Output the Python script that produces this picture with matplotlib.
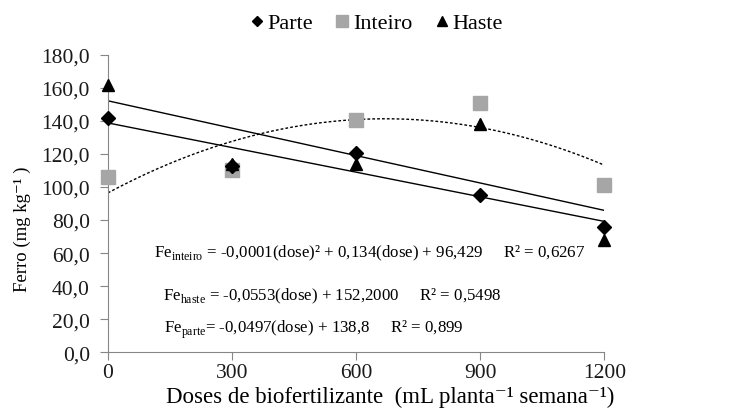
import matplotlib.pyplot as plt
import numpy as np

plt.rcParams['font.family'] = ['Liberation Serif', 'DejaVu Serif']
plt.rcParams['mathtext.fontset'] = 'custom'
plt.rcParams['mathtext.rm'] = 'Liberation Serif'

doses = [0, 300, 600, 900, 1200]
parte = [141.5, 113.0, 120.5, 95.0, 76.0]
inteiro = [106.0, 110.0, 140.5, 151.0, 101.0]
haste = [161.5, 114.0, 114.0, 138.0, 68.0]

# coeficientes das regressoes
coef_inteiro = [-0.0001, 0.134, 96.429]
coef_haste = [-0.0553, 152.2]
coef_parte = [-0.0497, 138.8]

fig = plt.figure(figsize=(7.29, 4.14), dpi=100)
ax = fig.add_axes([0.148, 0.147, 0.681, 0.718])

xx = np.linspace(0, 1200, 200)
ax.plot(xx, np.polyval(coef_inteiro, xx), color='black', lw=1, ls=(0, (2, 1.5)))
ax.plot(xx, np.polyval(coef_haste, xx), color='black', lw=1)
ax.plot(xx, np.polyval(coef_parte, xx), color='black', lw=1)

ax.plot(doses, inteiro, 's', color='#a6a6a6', ms=10, ls='none', label='Inteiro', zorder=3, clip_on=False)
ax.plot(doses, parte, 'D', color='black', ms=7, ls='none', label='Parte', zorder=4, clip_on=False)
ax.plot(doses, haste, '^', color='black', ms=9, ls='none', label='Haste', zorder=4, clip_on=False)

ax.set_xlim(0, 1200)
ax.set_ylim(0, 180)
ax.set_xticks(doses)
ax.set_yticks(np.arange(0, 181, 20))
ax.set_yticklabels([('%.1f' % v).replace('.', ',') for v in np.arange(0, 181, 20)])
for s in ['top', 'right']:
    ax.spines[s].set_visible(False)
for s in ['left', 'bottom']:
    ax.spines[s].set_color('#868686')
ax.tick_params(colors='#868686', labelcolor='#1a1a1a', labelsize=15.5, length=6)
ax.tick_params(axis='x', pad=2)
ax.tick_params(axis='y', pad=7)

fig.text(0.535, 0.039, 'Doses de biofertilizante  (mL planta⁻¹ semana⁻¹)',
         fontsize=16.5, ha='center', va='center')
fig.text(0.030, 0.447, 'Ferro (mg kg⁻¹ )', fontsize=13.5,
         rotation=90, ha='center', va='center')

fs = 12.2
ax.text(111, 60.5, r'Fe$_{\mathregular{inteiro}}$ = -0,0001(dose)² + 0,134(dose) + 96,429     R² = 0,6267',
        fontsize=fs, va='center')
ax.text(133, 34.5, r'Fe$_{\mathregular{haste}}$ = -0,0553(dose) + 152,2000     R² = 0,5498',
        fontsize=fs, va='center')
ax.text(135, 14, r'Fe$_{\mathregular{parte}}$= -0,0497(dose) + 138,8     R² = 0,899',
        fontsize=fs, va='center')

h, l = ax.get_legend_handles_labels()
order = [1, 0, 2]
fig.legend([h[i] for i in order], [l[i] for i in order], loc='upper center',
           bbox_to_anchor=(0.515, 1.015), ncol=3, frameon=False, fontsize=16,
           handlelength=0.8, handletextpad=0.1, columnspacing=0.9, markerscale=0.8)

fig.savefig('out.png', dpi=100)
